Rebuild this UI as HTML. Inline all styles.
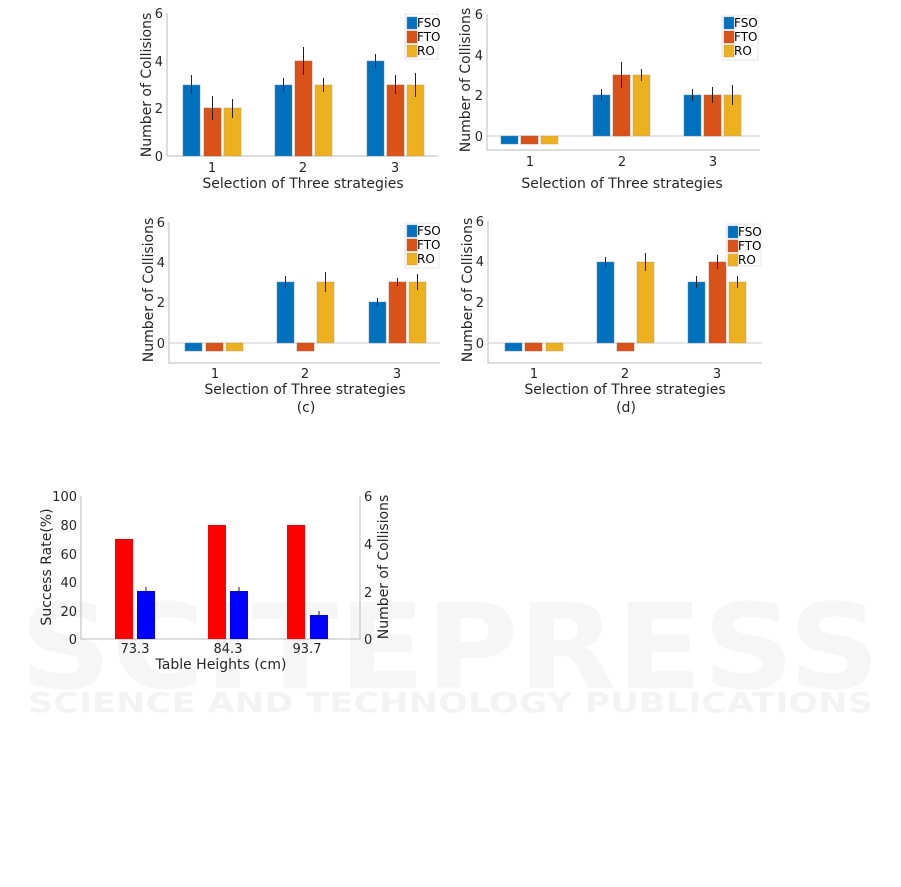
<!DOCTYPE html>
<html><head><meta charset="utf-8"><style>
html,body{margin:0;padding:0;background:#fff;}
svg{display:block;font-family:"DejaVu Sans","Liberation Sans",sans-serif;}
.t{font-size:13px;fill:#262626;}
.l{font-size:14px;fill:#262626;}
.g{font-size:12px;fill:#000;}
.ax{stroke:#bbb;stroke-width:1;fill:none;}
.e{stroke:#222;stroke-width:1;}
.b1{fill:#0072BD;stroke:#5a8cb8;stroke-width:.5}
.b2{fill:#D95319;stroke:#b06040;stroke-width:.5}
.b3{fill:#EDB120;stroke:#c0a060;stroke-width:.5}
</style></head><body>
<svg width="901" height="887" viewBox="0 0 901 887">
<!-- watermark -->
<g font-weight="bold">
<text x="20" y="688" font-size="118" textLength="860" lengthAdjust="spacingAndGlyphs" fill="#f6f6f6">SCITEPRESS</text>
<text x="28" y="712" font-size="28" textLength="845" lengthAdjust="spacingAndGlyphs" fill="#f3f3f3">SCIENCE AND TECHNOLOGY PUBLICATIONS</text>
</g>

<!-- Panel a -->
<g>
<polyline class="ax" points="167,13 167,156 438,156"/>
<g class="t" text-anchor="end"><text x="163" y="18">6</text><text x="163" y="66">4</text><text x="163" y="113">2</text><text x="163" y="161">0</text></g>
<g class="t" text-anchor="middle"><text x="212" y="172">1</text><text x="303" y="172">2</text><text x="395" y="172">3</text></g>
<text class="l" x="303" y="188" text-anchor="middle">Selection of Three strategies</text>
<text class="l" transform="translate(151,85) rotate(-90)" text-anchor="middle">Number of Collisions</text>
<rect class="b1" x="183" y="85" width="17" height="71"/><rect class="b2" x="204" y="108" width="17" height="48"/><rect class="b3" x="224" y="108" width="17" height="48"/>
<rect class="b1" x="275" y="85" width="17" height="71"/><rect class="b2" x="295" y="61" width="17" height="95"/><rect class="b3" x="315" y="85" width="17" height="71"/>
<rect class="b1" x="367" y="61" width="17" height="95"/><rect class="b2" x="387" y="85" width="17" height="71"/><rect class="b3" x="407" y="85" width="17" height="71"/>
<g class="e"><line x1="191.5" y1="75" x2="191.5" y2="94"/><line x1="212.5" y1="96" x2="212.5" y2="120"/><line x1="232.5" y1="99" x2="232.5" y2="118"/>
<line x1="283.5" y1="78" x2="283.5" y2="92"/><line x1="303.5" y1="47" x2="303.5" y2="75"/><line x1="323.5" y1="78" x2="323.5" y2="92"/>
<line x1="375.5" y1="54" x2="375.5" y2="68"/><line x1="395.5" y1="75" x2="395.5" y2="94"/><line x1="415.5" y1="73" x2="415.5" y2="97"/></g>
<rect x="405" y="14" width="33" height="45" fill="#fff" stroke="#ccc" stroke-width=".5"/>
<rect class="b1" x="407" y="17" width="10" height="12"/><rect class="b2" x="407" y="31" width="10" height="12"/><rect class="b3" x="407" y="45" width="10" height="12"/>
<g class="g"><text x="417" y="27">FSO</text><text x="417" y="41">FTO</text><text x="417" y="55">RO</text></g>
</g>

<!-- Panel b -->
<g>
<polyline class="ax" points="487,14 487,150 760,150"/><line x1="487" y1="136" x2="760" y2="136" stroke="#ccc"/>
<g class="t" text-anchor="end"><text x="483" y="19">6</text><text x="483" y="60">4</text><text x="483" y="100">2</text><text x="483" y="141">0</text></g>
<g class="t" text-anchor="middle"><text x="530" y="166">1</text><text x="622" y="166">2</text><text x="713" y="166">3</text></g>
<text class="l" x="622" y="188" text-anchor="middle">Selection of Three strategies</text>
<text class="l" transform="translate(470,80) rotate(-90)" text-anchor="middle">Number of Collisions</text>
<rect class="b1" x="501" y="136" width="17" height="8"/><rect class="b2" x="521" y="136" width="17" height="8"/><rect class="b3" x="541" y="136" width="17" height="8"/>
<rect class="b1" x="593" y="95" width="17" height="41"/><rect class="b2" x="613" y="75" width="17" height="61"/><rect class="b3" x="633" y="75" width="17" height="61"/>
<rect class="b1" x="684" y="95" width="17" height="41"/><rect class="b2" x="704" y="95" width="17" height="41"/><rect class="b3" x="724" y="95" width="17" height="41"/>
<g class="e"><line x1="601.5" y1="89" x2="601.5" y2="101"/><line x1="621.5" y1="62" x2="621.5" y2="88"/><line x1="641.5" y1="69" x2="641.5" y2="81"/>
<line x1="692.5" y1="89" x2="692.5" y2="101"/><line x1="712.5" y1="87" x2="712.5" y2="103"/><line x1="732.5" y1="85" x2="732.5" y2="105"/></g>
<rect x="722" y="15" width="36" height="45" fill="#fff" stroke="#ccc" stroke-width=".5"/>
<rect class="b1" x="724" y="17" width="10" height="12"/><rect class="b2" x="724" y="31" width="10" height="12"/><rect class="b3" x="724" y="45" width="10" height="12"/>
<g class="g"><text x="734" y="27">FSO</text><text x="734" y="41">FTO</text><text x="734" y="55">RO</text></g>
</g>

<!-- Panel c -->
<g>
<polyline class="ax" points="169,222 169,363 440,363"/><line x1="169" y1="343" x2="440" y2="343" stroke="#ccc"/>
<g class="t" text-anchor="end"><text x="165" y="227">6</text><text x="165" y="267">4</text><text x="165" y="307">2</text><text x="165" y="348">0</text></g>
<g class="t" text-anchor="middle"><text x="215" y="378">1</text><text x="305" y="378">2</text><text x="397" y="378">3</text></g>
<text class="l" x="305" y="394" text-anchor="middle">Selection of Three strategies</text>
<text class="l" x="306" y="412" text-anchor="middle">(c)</text>
<text class="l" transform="translate(153,290) rotate(-90)" text-anchor="middle">Number of Collisions</text>
<rect class="b1" x="185" y="343" width="17" height="8"/><rect class="b2" x="206" y="343" width="17" height="8"/><rect class="b3" x="226" y="343" width="17" height="8"/>
<rect class="b1" x="277" y="282" width="17" height="61"/><rect class="b2" x="297" y="343" width="17" height="8"/><rect class="b3" x="317" y="282" width="17" height="61"/>
<rect class="b1" x="369" y="302" width="17" height="41"/><rect class="b2" x="389" y="282" width="17" height="61"/><rect class="b3" x="409" y="282" width="17" height="61"/>
<g class="e"><line x1="285.5" y1="276" x2="285.5" y2="288"/><line x1="325.5" y1="272" x2="325.5" y2="292"/>
<line x1="377.5" y1="298" x2="377.5" y2="306"/><line x1="397.5" y1="278" x2="397.5" y2="286"/><line x1="417.5" y1="274" x2="417.5" y2="290"/></g>
<rect x="405" y="223" width="34" height="45" fill="#fff" stroke="#ccc" stroke-width=".5"/>
<rect class="b1" x="407" y="225" width="10" height="12"/><rect class="b2" x="407" y="239" width="10" height="12"/><rect class="b3" x="407" y="253" width="10" height="12"/>
<g class="g"><text x="417" y="235">FSO</text><text x="417" y="249">FTO</text><text x="417" y="263">RO</text></g>
</g>

<!-- Panel d -->
<g>
<polyline class="ax" points="488,221 488,363 762,363"/><line x1="488" y1="343" x2="762" y2="343" stroke="#ccc"/>
<g class="t" text-anchor="end"><text x="484" y="226">6</text><text x="484" y="266">4</text><text x="484" y="307">2</text><text x="484" y="348">0</text></g>
<g class="t" text-anchor="middle"><text x="534" y="378">1</text><text x="625" y="378">2</text><text x="717" y="378">3</text></g>
<text class="l" x="625" y="394" text-anchor="middle">Selection of Three strategies</text>
<text class="l" x="626" y="412" text-anchor="middle">(d)</text>
<text class="l" transform="translate(472,290) rotate(-90)" text-anchor="middle">Number of Collisions</text>
<rect class="b1" x="505" y="343" width="17" height="8"/><rect class="b2" x="525" y="343" width="17" height="8"/><rect class="b3" x="546" y="343" width="17" height="8"/>
<rect class="b1" x="597" y="262" width="17" height="81"/><rect class="b2" x="617" y="343" width="17" height="8"/><rect class="b3" x="637" y="262" width="17" height="81"/>
<rect class="b1" x="688" y="282" width="17" height="61"/><rect class="b2" x="709" y="262" width="17" height="81"/><rect class="b3" x="729" y="282" width="17" height="61"/>
<g class="e"><line x1="605.5" y1="257" x2="605.5" y2="267"/><line x1="645.5" y1="253" x2="645.5" y2="271"/>
<line x1="696.5" y1="276" x2="696.5" y2="288"/><line x1="717.5" y1="255" x2="717.5" y2="269"/><line x1="737.5" y1="276" x2="737.5" y2="288"/></g>
<rect x="726" y="224" width="35" height="42" fill="#fff" stroke="#ccc" stroke-width=".5"/>
<rect class="b1" x="728" y="226" width="10" height="12"/><rect class="b2" x="728" y="240" width="10" height="12"/><rect class="b3" x="728" y="254" width="10" height="12"/>
<g class="g"><text x="738" y="236">FSO</text><text x="738" y="250">FTO</text><text x="738" y="264">RO</text></g>
</g>

<!-- Bottom chart -->
<g>
<polyline class="ax" points="81,496 81,639 360,639 360,496"/>
<g class="t" text-anchor="end"><text x="77" y="501">100</text><text x="77" y="530">80</text><text x="77" y="559">60</text><text x="77" y="587">40</text><text x="77" y="616">20</text><text x="77" y="644">0</text></g>
<g class="t"><text x="364" y="501">6</text><text x="364" y="549">4</text><text x="364" y="597">2</text><text x="364" y="644">0</text></g>
<g class="t" text-anchor="middle"><text x="135" y="653">73.3</text><text x="228" y="653">84.3</text><text x="307" y="653">93.7</text></g>
<text class="l" x="221" y="669" text-anchor="middle">Table Heights (cm)</text>
<text class="l" transform="translate(51,567) rotate(-90)" text-anchor="middle">Success Rate(%)</text>
<text class="l" transform="translate(388,567) rotate(-90)" text-anchor="middle">Number of Collisions</text>
<rect x="115" y="539" width="18" height="100" fill="#f00"/><rect x="208" y="525" width="18" height="114" fill="#f00"/><rect x="287" y="525" width="18" height="114" fill="#f00"/>
<rect x="137" y="591" width="18" height="48" fill="#00f"/><rect x="230" y="591" width="18" height="48" fill="#00f"/><rect x="310" y="615" width="18" height="24" fill="#00f"/>
<g class="e"><line x1="146" y1="587" x2="146" y2="595"/><line x1="239" y1="587" x2="239" y2="595"/><line x1="319" y1="611" x2="319" y2="619"/></g>
</g>
</svg>
</body></html>
